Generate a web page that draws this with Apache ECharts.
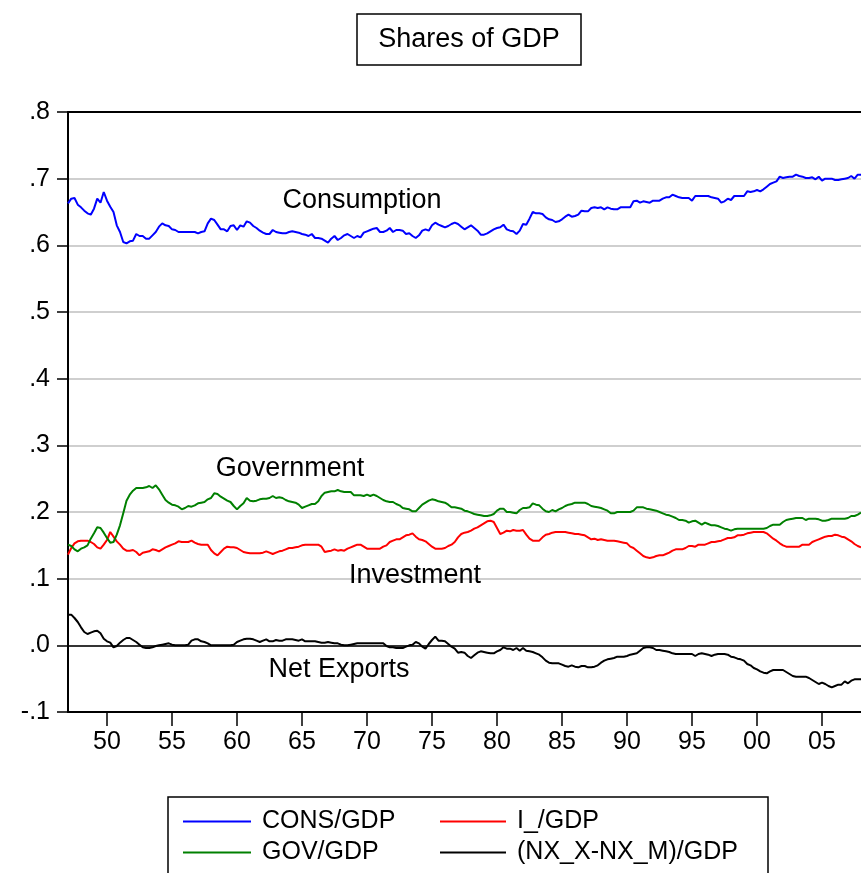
<!DOCTYPE html>
<html>
<head>
<meta charset="utf-8">
<title>Shares of GDP</title>
<script src="https://cdn.jsdelivr.net/npm/echarts@6/dist/echarts.min.js"></script>
<style>
  html, body { margin: 0; padding: 0; background: #fff; }
  #chart { width: 861px; height: 873px; }
</style>
</head>
<body>
<div id="chart"></div>
<script>
// quarterly, 1947Q1 .. 2008Q1
var startYear = 1947
var nQuarters = 245

var seriesNames = ['CONS/GDP', 'I_/GDP', 'GOV/GDP', '(NX_X-NX_M)/GDP']

var consGdp = [
  0.663, 0.670, 0.671, 0.661, 0.657, 0.652, 0.648, 0.646, 0.655, 0.670,
  0.664, 0.680, 0.667, 0.658, 0.650, 0.630, 0.620, 0.605, 0.603, 0.606,
  0.607, 0.617, 0.614, 0.614, 0.610, 0.610, 0.615, 0.620, 0.628, 0.633,
  0.630, 0.629, 0.624, 0.623, 0.620, 0.620, 0.620, 0.620, 0.620, 0.620,
  0.618, 0.620, 0.621, 0.633, 0.640, 0.638, 0.631, 0.624, 0.624, 0.621,
  0.629, 0.630, 0.623, 0.630, 0.628, 0.636, 0.634, 0.629, 0.626, 0.622,
  0.619, 0.617, 0.617, 0.623, 0.620, 0.619, 0.618, 0.618, 0.620, 0.621,
  0.620, 0.619, 0.617, 0.616, 0.614, 0.617, 0.611, 0.611, 0.610, 0.607,
  0.604, 0.610, 0.614, 0.608, 0.611, 0.615, 0.617, 0.614, 0.611, 0.614,
  0.612, 0.619, 0.621, 0.623, 0.625, 0.626, 0.620, 0.620, 0.622, 0.626,
  0.620, 0.623, 0.623, 0.622, 0.617, 0.618, 0.614, 0.611, 0.615, 0.622,
  0.624, 0.622, 0.630, 0.634, 0.631, 0.629, 0.627, 0.629, 0.632, 0.634,
  0.632, 0.628, 0.624, 0.627, 0.630, 0.626, 0.622, 0.616, 0.616, 0.618,
  0.621, 0.624, 0.626, 0.627, 0.631, 0.624, 0.622, 0.621, 0.617, 0.622,
  0.632, 0.631, 0.640, 0.650, 0.648, 0.648, 0.647, 0.642, 0.639, 0.638,
  0.635, 0.636, 0.639, 0.643, 0.646, 0.643, 0.644, 0.646, 0.652, 0.651,
  0.651, 0.656, 0.657, 0.656, 0.657, 0.654, 0.657, 0.655, 0.654, 0.654,
  0.657, 0.657, 0.657, 0.657, 0.666, 0.667, 0.664, 0.666, 0.665, 0.664,
  0.667, 0.667, 0.667, 0.670, 0.672, 0.672, 0.676, 0.674, 0.672, 0.671,
  0.671, 0.671, 0.667, 0.674, 0.674, 0.674, 0.674, 0.674, 0.672, 0.671,
  0.670, 0.664, 0.666, 0.670, 0.668, 0.674, 0.674, 0.674, 0.674, 0.681,
  0.680, 0.681, 0.683, 0.681, 0.684, 0.688, 0.692, 0.694, 0.696, 0.703,
  0.701, 0.702, 0.703, 0.703, 0.706, 0.704, 0.703, 0.701, 0.701, 0.702,
  0.699, 0.703, 0.697, 0.700, 0.700, 0.700, 0.698, 0.698, 0.699, 0.700,
  0.701, 0.704, 0.700, 0.706, 0.706
]

var invGdp = [
  0.136, 0.146, 0.153, 0.156, 0.157, 0.157, 0.157, 0.155, 0.152, 0.147,
  0.145, 0.151, 0.158, 0.170, 0.163, 0.156, 0.151, 0.145, 0.142, 0.142,
  0.143, 0.140, 0.135, 0.139, 0.140, 0.141, 0.144, 0.143, 0.141, 0.144,
  0.147, 0.149, 0.151, 0.153, 0.156, 0.155, 0.155, 0.155, 0.157, 0.154,
  0.152, 0.151, 0.151, 0.151, 0.143, 0.138, 0.135, 0.140, 0.145, 0.148,
  0.147, 0.147, 0.146, 0.143, 0.140, 0.139, 0.138, 0.138, 0.138, 0.138,
  0.139, 0.141, 0.139, 0.137, 0.139, 0.141, 0.142, 0.144, 0.146, 0.146,
  0.147, 0.148, 0.150, 0.151, 0.151, 0.151, 0.151, 0.151, 0.148, 0.140,
  0.141, 0.142, 0.144, 0.142, 0.143, 0.142, 0.145, 0.147, 0.149, 0.151,
  0.151, 0.148, 0.145, 0.145, 0.145, 0.145, 0.145, 0.148, 0.150, 0.155,
  0.157, 0.159, 0.159, 0.162, 0.165, 0.166, 0.168, 0.163, 0.159, 0.158,
  0.156, 0.152, 0.148, 0.145, 0.145, 0.145, 0.146, 0.149, 0.151, 0.155,
  0.162, 0.167, 0.169, 0.170, 0.172, 0.175, 0.177, 0.180, 0.183, 0.186,
  0.187, 0.185, 0.176, 0.167, 0.169, 0.172, 0.171, 0.173, 0.172, 0.172,
  0.173, 0.166, 0.160, 0.157, 0.157, 0.157, 0.162, 0.166, 0.167, 0.169,
  0.170, 0.170, 0.170, 0.170, 0.169, 0.168, 0.167, 0.167, 0.166, 0.165,
  0.162, 0.159, 0.160, 0.158, 0.159, 0.158, 0.157, 0.157, 0.157, 0.156,
  0.155, 0.154, 0.153, 0.148, 0.146, 0.142, 0.138, 0.134, 0.132, 0.131,
  0.132, 0.134, 0.135, 0.135, 0.137, 0.139, 0.142, 0.144, 0.144, 0.144,
  0.146, 0.149, 0.149, 0.148, 0.151, 0.151, 0.151, 0.153, 0.155, 0.155,
  0.156, 0.157, 0.159, 0.161, 0.161, 0.162, 0.165, 0.165, 0.166, 0.168,
  0.169, 0.170, 0.170, 0.170, 0.170, 0.168, 0.164, 0.160, 0.157, 0.153,
  0.150, 0.148, 0.148, 0.148, 0.148, 0.148, 0.151, 0.151, 0.151, 0.155,
  0.157, 0.159, 0.161, 0.163, 0.164, 0.164, 0.166, 0.165, 0.163, 0.162,
  0.159, 0.156, 0.152, 0.149, 0.147
]

var govGdp = [
  0.151, 0.149, 0.144, 0.141, 0.145, 0.147, 0.150, 0.160, 0.168, 0.177,
  0.176, 0.169, 0.161, 0.154, 0.155, 0.166, 0.180, 0.198, 0.217, 0.226,
  0.232, 0.236, 0.236, 0.236, 0.237, 0.239, 0.236, 0.240, 0.234, 0.226,
  0.218, 0.214, 0.211, 0.210, 0.208, 0.204, 0.206, 0.209, 0.208, 0.210,
  0.213, 0.214, 0.215, 0.219, 0.221, 0.228, 0.227, 0.223, 0.220, 0.217,
  0.215, 0.209, 0.204, 0.209, 0.213, 0.221, 0.217, 0.216, 0.217, 0.219,
  0.220, 0.220, 0.221, 0.224, 0.221, 0.222, 0.221, 0.218, 0.216, 0.215,
  0.214, 0.211, 0.206, 0.208, 0.210, 0.212, 0.212, 0.216, 0.224, 0.229,
  0.230, 0.231, 0.231, 0.233, 0.231, 0.230, 0.230, 0.230, 0.225, 0.225,
  0.225, 0.224, 0.226, 0.224, 0.226, 0.224, 0.221, 0.218, 0.216, 0.215,
  0.215, 0.212, 0.210, 0.206, 0.205, 0.204, 0.201, 0.201, 0.206, 0.211,
  0.214, 0.217, 0.219, 0.218, 0.216, 0.215, 0.214, 0.211, 0.207, 0.207,
  0.206, 0.205, 0.202, 0.201, 0.199, 0.197, 0.196, 0.195, 0.194, 0.194,
  0.195, 0.197, 0.202, 0.205, 0.205, 0.200, 0.200, 0.199, 0.198, 0.203,
  0.206, 0.206, 0.207, 0.213, 0.211, 0.210, 0.205, 0.201, 0.200, 0.203,
  0.201, 0.204, 0.206, 0.209, 0.211, 0.212, 0.214, 0.214, 0.214, 0.214,
  0.212, 0.209, 0.208, 0.207, 0.206, 0.204, 0.202, 0.198, 0.198, 0.200,
  0.200, 0.200, 0.200, 0.200, 0.202, 0.207, 0.207, 0.207, 0.205, 0.204,
  0.203, 0.202, 0.200, 0.198, 0.196, 0.195, 0.193, 0.191, 0.188, 0.188,
  0.187, 0.184, 0.186, 0.187, 0.184, 0.181, 0.184, 0.182, 0.180, 0.180,
  0.179, 0.177, 0.175, 0.174, 0.172, 0.174, 0.175, 0.175, 0.175, 0.175,
  0.175, 0.175, 0.175, 0.175, 0.175, 0.176, 0.179, 0.181, 0.181, 0.181,
  0.185, 0.188, 0.189, 0.190, 0.191, 0.191, 0.191, 0.188, 0.190, 0.190,
  0.190, 0.189, 0.187, 0.187, 0.188, 0.190, 0.190, 0.190, 0.190, 0.190,
  0.191, 0.194, 0.194, 0.196, 0.199
]

var nxGdp = [
  0.046, 0.046, 0.041, 0.035, 0.027, 0.020, 0.017, 0.019, 0.021, 0.022,
  0.018, 0.010, 0.006, 0.004, -0.003, -0.001, 0.004, 0.008, 0.011, 0.011,
  0.008, 0.005, 0.001, -0.003, -0.004, -0.004, -0.003, -0.001, 0.000, 0.001,
  0.002, 0.003, 0.001, 0.000, 0.000, 0.000, 0.000, 0.001, 0.007, 0.009,
  0.009, 0.006, 0.005, 0.003, 0.000, 0.000, 0.000, 0.000, 0.000, 0.000,
  0.000, 0.001, 0.005, 0.007, 0.009, 0.010, 0.010, 0.009, 0.007, 0.005,
  0.007, 0.009, 0.006, 0.006, 0.008, 0.007, 0.007, 0.009, 0.009, 0.009,
  0.008, 0.007, 0.009, 0.006, 0.006, 0.006, 0.006, 0.005, 0.004, 0.004,
  0.005, 0.004, 0.003, 0.003, 0.001, 0.000, 0.000, 0.001, 0.002, 0.003,
  0.003, 0.003, 0.003, 0.003, 0.003, 0.003, 0.003, 0.003, -0.001, -0.003,
  -0.003, -0.004, -0.004, -0.004, -0.002, 0.000, 0.001, 0.005, 0.003, -0.002,
  -0.005, 0.002, 0.008, 0.013, 0.007, 0.007, 0.006, 0.002, -0.002, -0.005,
  -0.011, -0.010, -0.011, -0.016, -0.019, -0.015, -0.011, -0.009, -0.010, -0.011,
  -0.012, -0.012, -0.009, -0.007, -0.003, -0.005, -0.005, -0.007, -0.004, -0.008,
  -0.004, -0.008, -0.009, -0.010, -0.012, -0.014, -0.018, -0.023, -0.026, -0.027,
  -0.027, -0.027, -0.029, -0.031, -0.032, -0.030, -0.032, -0.033, -0.031, -0.031,
  -0.033, -0.033, -0.032, -0.030, -0.026, -0.023, -0.021, -0.020, -0.019, -0.017,
  -0.017, -0.017, -0.016, -0.014, -0.013, -0.012, -0.008, -0.004, -0.003, -0.003,
  -0.004, -0.007, -0.007, -0.008, -0.009, -0.010, -0.012, -0.013, -0.013, -0.013,
  -0.013, -0.013, -0.013, -0.016, -0.013, -0.012, -0.013, -0.014, -0.016, -0.014,
  -0.013, -0.013, -0.013, -0.014, -0.017, -0.018, -0.020, -0.021, -0.023, -0.028,
  -0.030, -0.034, -0.036, -0.039, -0.041, -0.042, -0.039, -0.037, -0.037, -0.037,
  -0.037, -0.040, -0.043, -0.046, -0.047, -0.047, -0.047, -0.047, -0.049, -0.052,
  -0.055, -0.058, -0.056, -0.058, -0.061, -0.063, -0.061, -0.059, -0.059, -0.054,
  -0.057, -0.053, -0.051, -0.051, -0.051
]

// text labels drawn inside the plot
var annotations = [
  { text: 'Consumption', x: 362, y: 201 },
  { text: 'Government', x: 290, y: 469 },
  { text: 'Investment', x: 415, y: 576 },
  { text: 'Net Exports', x: 339, y: 670 }
]

var quarters = []
for (var i = 0; i < nQuarters; i++) {
  quarters.push((startYear + Math.floor(i / 4)) + 'Q' + (i % 4 + 1))
}

var FONT = '"Liberation Sans", Arial, sans-serif'

function isTickQuarter(index, value) {
  return value.slice(4) === 'Q1' && (+value.slice(0, 4)) % 5 === 0
}

function yLabel(v) {
  if (Math.abs(v) < 1e-9) return '.0'
  return v.toFixed(1).replace('0.', '.')
}

var chart = echarts.init(document.getElementById('chart'), null, { renderer: 'canvas' })

var legendText = { fontSize: 25, fontFamily: FONT, color: '#000', lineHeight: 25, padding: [0, 0, 0, 6] }

var graphics = [
  {
    type: 'rect',
    shape: { x: 357, y: 14, width: 224, height: 51 },
    style: { fill: '#fff', stroke: '#000', lineWidth: 1.5 },
    silent: true
  },
  {
    type: 'text',
    x: 469, y: 40,
    style: { text: 'Shares of GDP', font: '27px ' + FONT, fill: '#000', align: 'center', verticalAlign: 'middle' },
    silent: true
  },
  {
    type: 'rect',
    shape: { x: 168, y: 797, width: 600, height: 120 },
    style: { fill: 'none', stroke: '#000', lineWidth: 1.5 },
    silent: true
  }
]
annotations.forEach(function(a) {
  graphics.push({
    type: 'text',
    x: a.x, y: a.y,
    z: 10,
    style: { text: a.text, font: '27px ' + FONT, fill: '#000', align: 'center', verticalAlign: 'middle' },
    silent: true
  })
})

chart.setOption({
  animation: false,
  backgroundColor: '#fff',
  grid: { left: 68, right: 0, top: 112, bottom: 161, containLabel: false },
  legend: [
    {
      data: ['CONS/GDP', 'GOV/GDP'],
      orient: 'vertical',
      left: 183, top: 809,
      padding: 0,
      itemGap: 6,
      itemWidth: 68, itemHeight: 2,
      icon: 'rect',
      selectedMode: false,
      textStyle: legendText
    },
    {
      data: ['I_/GDP', '(NX_X-NX_M)/GDP'],
      orient: 'vertical',
      left: 440, top: 809,
      padding: 0,
      itemGap: 6,
      itemWidth: 66, itemHeight: 2,
      icon: 'rect',
      selectedMode: false,
      textStyle: legendText
    }
  ],
  xAxis: [
    {
      type: 'category',
      data: quarters,
      boundaryGap: false,
      axisLine: { onZero: false, lineStyle: { color: '#000', width: 2 } },
      axisTick: { interval: isTickQuarter, length: 14, lineStyle: { color: '#000', width: 1.5 } },
      axisLabel: {
        interval: isTickQuarter,
        formatter: function(v) { return v.slice(2, 4) },
        fontSize: 25, fontFamily: FONT, color: '#000', margin: 18
      },
      splitLine: { show: false }
    },
    {
      type: 'category',
      data: quarters,
      position: 'top',
      boundaryGap: false,
      axisLine: { onZero: false, lineStyle: { color: '#000', width: 2 } },
      axisTick: { show: false },
      axisLabel: { show: false },
      splitLine: { show: false }
    }
  ],
  yAxis: {
    type: 'value',
    min: -0.1,
    max: 0.8,
    interval: 0.1,
    axisLine: { show: true, onZero: false, lineStyle: { color: '#000', width: 2 } },
    axisTick: { show: true, length: 11, lineStyle: { color: '#000', width: 1.5 } },
    axisLabel: { formatter: yLabel, fontSize: 25, fontFamily: FONT, color: '#000', margin: 18 },
    splitLine: { show: true, lineStyle: { color: '#cfcfcf', width: 2 } }
  },
  series: [
    {
      name: seriesNames[0], type: 'line', data: consGdp,
      symbol: 'none', lineStyle: { color: '#0000ff', width: 2 }, itemStyle: { color: '#0000ff' }
    },
    {
      name: seriesNames[1], type: 'line', data: invGdp,
      symbol: 'none', lineStyle: { color: '#ff0000', width: 2 }, itemStyle: { color: '#ff0000' }
    },
    {
      name: seriesNames[2], type: 'line', data: govGdp,
      symbol: 'none', lineStyle: { color: '#008000', width: 2 }, itemStyle: { color: '#008000' }
    },
    {
      name: seriesNames[3], type: 'line', data: nxGdp,
      symbol: 'none', lineStyle: { color: '#000', width: 2 }, itemStyle: { color: '#000' },
      markLine: {
        silent: true,
        symbol: 'none',
        label: { show: false },
        lineStyle: { color: '#000', width: 1.5, type: 'solid' },
        data: [{ yAxis: 0 }]
      }
    }
  ],
  graphic: graphics
})
</script>
</body>
</html>
